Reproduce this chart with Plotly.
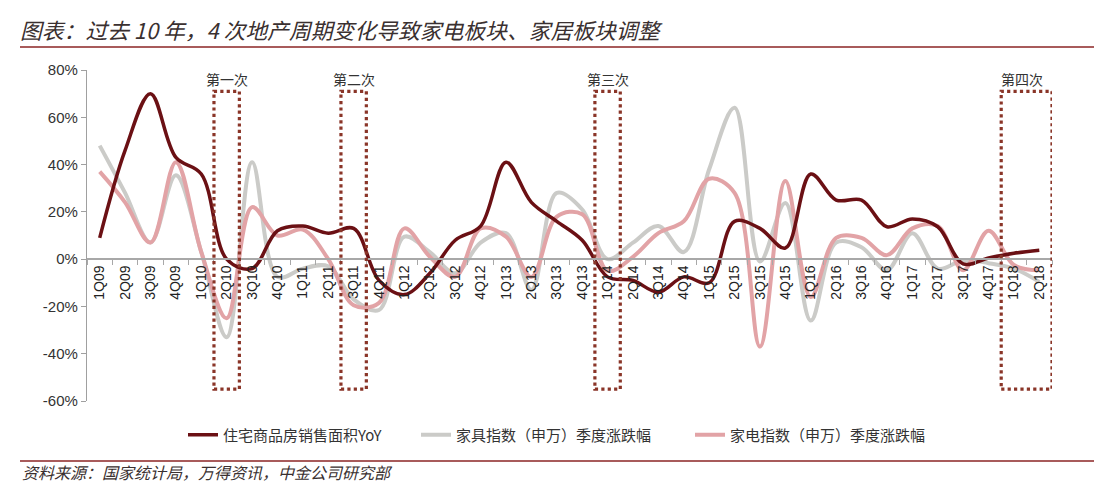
import plotly.graph_objects as go

quarters = ["1Q09","2Q09","3Q09","4Q09","1Q10","2Q10","3Q10","4Q10","1Q11","2Q11","3Q11","4Q11",
            "1Q12","2Q12","3Q12","4Q12","1Q13","2Q13","3Q13","4Q13","1Q14","2Q14","3Q14","4Q14",
            "1Q15","2Q15","3Q15","4Q15","1Q16","2Q16","3Q16","4Q16","1Q17","2Q17","3Q17","4Q17",
            "1Q18","2Q18"]

housing_yoy = [9, 46, 70, 43, 36, 0, -4, 12, 14, 11, 13, -9,
               -15, -6, 8, 14, 41, 24, 16, 8, -7.5, -9, -14, -7.5,
               -10, 16, 13, 4.7, 36, 25, 25, 13.7, 17, 13.7, -2, 0.5,
               2.5, 3.8]

furniture_idx = [48, 28, 7, 35.5, 3, -33, 41, -7.5, -4, -3, -17, -21.5,
                 9.5, 3, -6, 7, 11, -13, 28, 21, 0, 7, 14, 3,
                 38, 64, -1, 23.7, -26, 7, 5, -4.7, 11, -4, -0.5, -1.7,
                 -4, -9.6]

appliance_idx = [37, 24, 7, 41, 3, -25, 22, 10, 12.5, 0, -19.5, -18.5,
                 13, 1, -7.5, 13, 9.5, -7.5, 18, 19, -5, 1, 11, 16,
                 34, 28, -37, 33, -16, 9, 9, 1.7, 13, 14, -4.7, 12,
                 -2.5, -4.7]

series_names = ["住宅商品房销售面积YoY", "家具指数（申万）季度涨跌幅", "家电指数（申万）季度涨跌幅"]
y_ticks = [80, 60, 40, 20, 0, -20, -40, -60]
y_tick_text = ["80%", "60%", "40%", "20%", "0%", "-20%", "-40%", "-60%"]

# adjustment windows (category index ranges) and their labels
windows = [(4.5, 5.5), (9.5, 10.5), (19.5, 20.5), (35.5, 37.5)]
window_labels = ["第一次", "第二次", "第三次", "第四次"]
window_label_x = [5, 10, 20, 36.3]

title_text = "图表：过去 10 年，4 次地产周期变化导致家电板块、家居板块调整"
source_text = "资料来源：国家统计局，万得资讯，中金公司研究部"

C_DARK = "#6B1014"
C_GRAY = "#CBCBC8"
C_PINK = "#E2A3A6"
C_BOX = "#8A3528"
C_RULE = "#8B2525"

W, H = 1094, 484
ML, MR, MT, MB = 87, 42, 70, 83
pw = W - ML - MR
ph = H - MT - MB


def px_x(px):
    return (px - ML) / pw


def px_y(py):
    return (H - MB - py) / ph


fig = go.Figure()
fig.add_trace(go.Scatter(x=quarters, y=furniture_idx, mode="lines", name=series_names[1],
                         line=dict(color=C_GRAY, width=4, shape="spline", smoothing=1.0),
                         legend="legend2"))
fig.add_trace(go.Scatter(x=quarters, y=appliance_idx, mode="lines", name=series_names[2],
                         line=dict(color=C_PINK, width=4, shape="spline", smoothing=1.0),
                         legend="legend3"))
fig.add_trace(go.Scatter(x=quarters, y=housing_yoy, mode="lines", name=series_names[0],
                         line=dict(color=C_DARK, width=3.5, shape="spline", smoothing=1.0),
                         legend="legend"))

for (a, b) in windows:
    fig.add_shape(type="rect", xref="x", yref="y", x0=a, x1=b, y0=-55, y1=71,
                  line=dict(color=C_BOX, width=3.2, dash="dot"), fillcolor="rgba(0,0,0,0)",
                  layer="above")

for lbl, xv in zip(window_labels, window_label_x):
    fig.add_annotation(x=xv, y=76, xref="x", yref="y", text=lbl, showarrow=False,
                       font=dict(family="Noto Sans CJK SC", size=14, color="#333333"))

# title, source and rules
fig.add_annotation(xref="paper", yref="paper", x=px_x(18), y=px_y(30), xanchor="left",
                   yanchor="middle", text=title_text, showarrow=False,
                   font=dict(family="Noto Sans CJK SC", size=21.8, color="#3A3030", style="italic"))
fig.add_annotation(xref="paper", yref="paper", x=px_x(20), y=px_y(472), xanchor="left",
                   yanchor="middle", text=source_text, showarrow=False,
                   font=dict(family="Noto Sans CJK SC", size=16, color="#3A3030", style="italic"))
fig.add_shape(type="line", xref="paper", yref="paper", x0=px_x(20), x1=px_x(W),
              y0=px_y(47), y1=px_y(47), line=dict(color=C_RULE, width=1.5))
fig.add_shape(type="line", xref="paper", yref="paper", x0=px_x(20), x1=px_x(W),
              y0=px_y(461), y1=px_y(461), line=dict(color=C_RULE, width=1.5))

legend_font = dict(family="Noto Sans CJK SC", size=15, color="#333333")


def leg(xpx):
    return dict(x=xpx / W, y=1 - 435 / H, xref="container", yref="container",
                xanchor="left", yanchor="middle", orientation="h", font=legend_font,
                bgcolor="rgba(0,0,0,0)", borderwidth=0)


fig.update_layout(
    template="none",
    width=W, height=H,
    margin=dict(l=ML, r=MR, t=MT, b=MB, autoexpand=False),
    paper_bgcolor="white", plot_bgcolor="white",
    showlegend=True,
    legend=leg(183), legend2=leg(416), legend3=leg(690),
    hovermode=False,
)

fig.update_yaxes(range=[-60, 80], tickvals=y_ticks, ticktext=y_tick_text, showgrid=False,
                 zeroline=False, showline=True, linecolor="#A0A0A0", linewidth=1.2,
                 ticks="outside", ticklen=5, tickcolor="#A0A0A0", automargin=False,
                 tickfont=dict(family="Liberation Sans, Arial", size=15, color="#333333"))
fig.update_xaxes(type="category", anchor="free", position=60 / 140, showgrid=False,
                 zeroline=False, automargin=False,
                 showline=True, linecolor="#A8A8A8", linewidth=1.5, ticks="outside",
                 tickson="boundaries", ticklen=5, tickcolor="#A8A8A8", tickangle=-90,
                 range=[-0.5, len(quarters) - 0.5],
                 tickfont=dict(family="Liberation Sans, Arial", size=14, color="#222222"))

fig.write_html("out.html")
